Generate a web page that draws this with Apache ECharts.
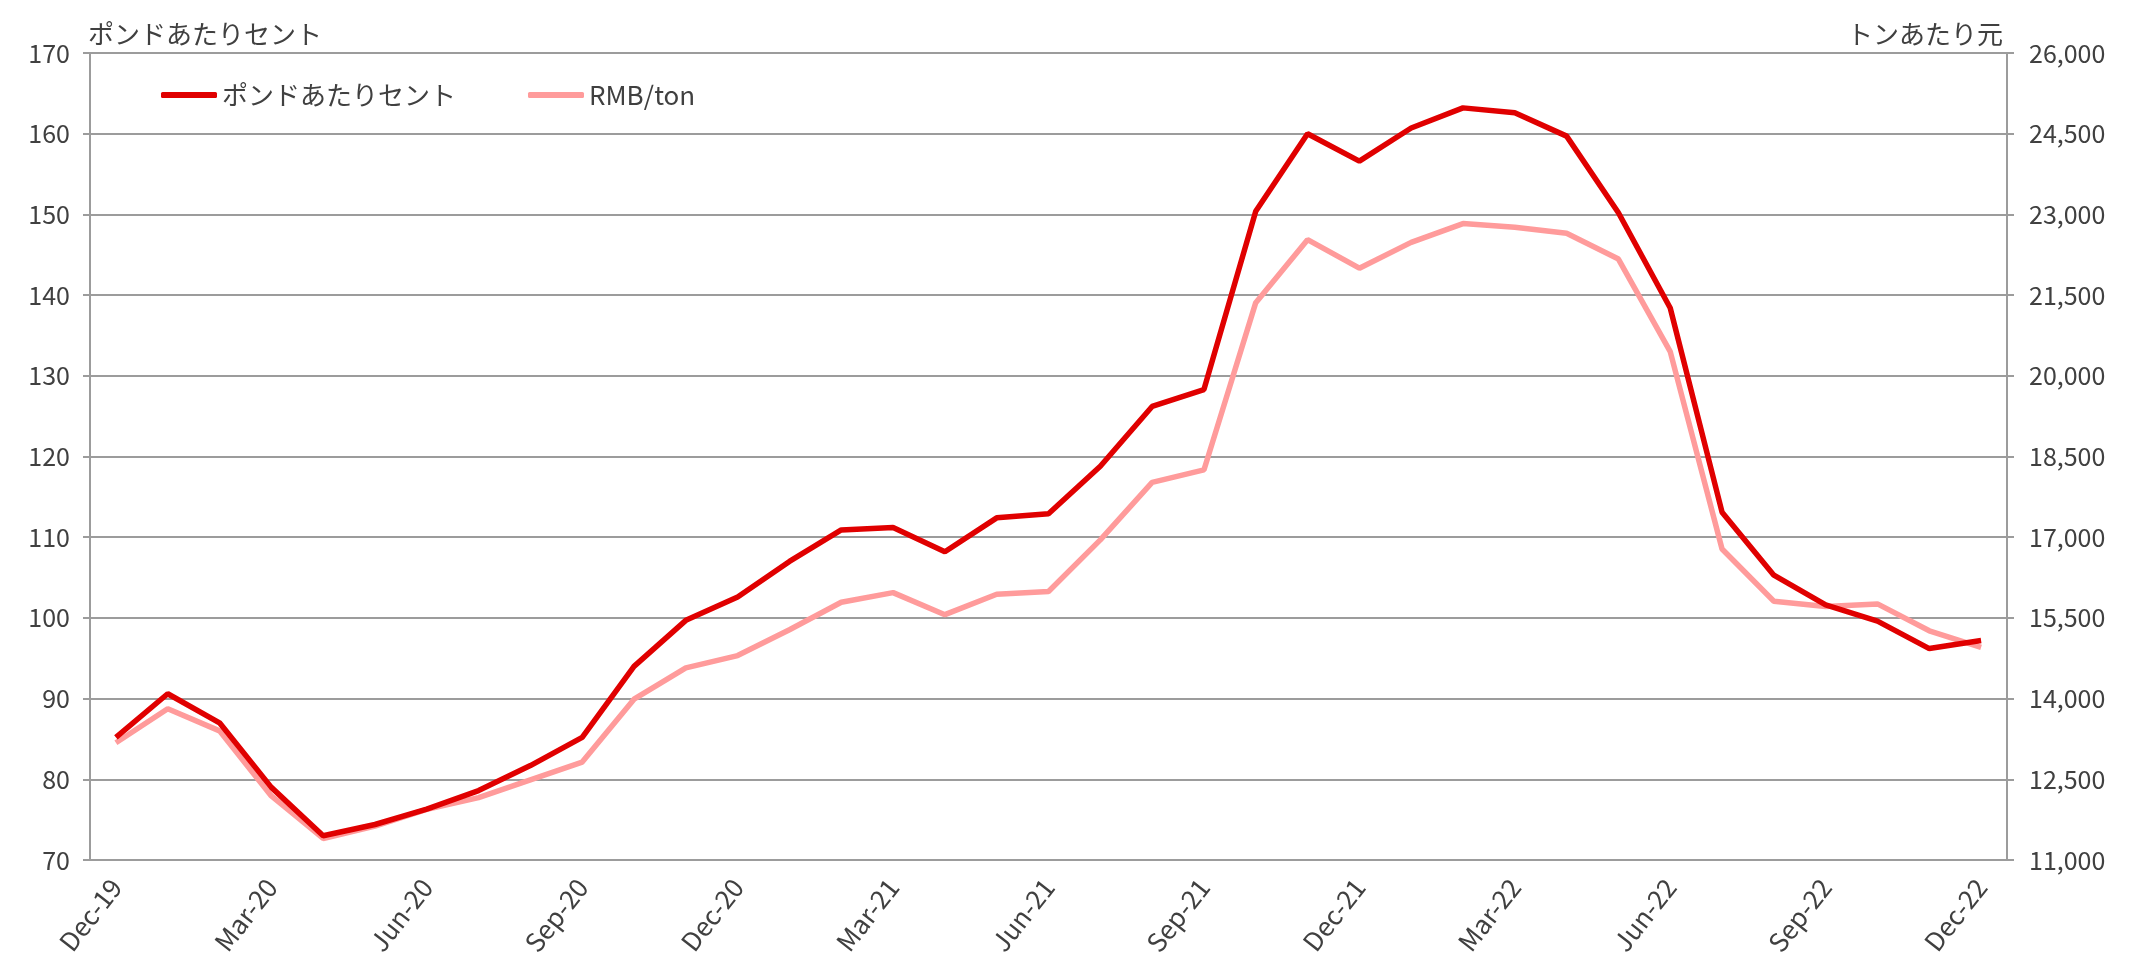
<!DOCTYPE html>
<html>
<head>
<meta charset="utf-8">
<script src="https://cdn.jsdelivr.net/npm/echarts@6/dist/echarts.min.js"></script>
<style>
  html, body { margin: 0; padding: 0; background: #fff; }
  #chart { width: 2137px; height: 978px; }
</style>
</head>
<body>
<div id="chart"></div>
<script>
const months = [
  'Dec-19', 'Jan-20', 'Feb-20', 'Mar-20', 'Apr-20', 'May-20', 'Jun-20', 'Jul-20', 'Aug-20', 'Sep-20', 'Oct-20', 'Nov-20',
  'Dec-20', 'Jan-21', 'Feb-21', 'Mar-21', 'Apr-21', 'May-21', 'Jun-21', 'Jul-21', 'Aug-21', 'Sep-21', 'Oct-21', 'Nov-21',
  'Dec-21', 'Jan-22', 'Feb-22', 'Mar-22', 'Apr-22', 'May-22', 'Jun-22', 'Jul-22', 'Aug-22', 'Sep-22', 'Oct-22', 'Nov-22',
  'Dec-22'
]

// cents per pound (left axis)
const centsPerLb = [
  85.2, 90.6, 87.0, 79.0, 73.0, 74.4, 76.3, 78.6, 81.7, 85.2, 94.0, 99.7,
  102.6, 107.0, 110.9, 111.2, 108.2, 112.4, 112.9, 118.8, 126.2, 128.3, 150.4, 160.0,
  156.6, 160.7, 163.2, 162.6, 159.7, 150.2, 138.4, 113.1, 105.3, 101.6, 99.6, 96.2,
  97.2
]

// RMB per ton (right axis)
const rmbPerTon = [
  13180, 13810, 13400, 12190, 11400, 11630, 11940, 12160, 12490, 12820, 13990, 14570,
  14800, 15280, 15790, 15970, 15560, 15940, 15990, 16950, 18020, 18250, 21360, 22530,
  22000, 22480, 22830, 22760, 22650, 22170, 20450, 16780, 15810, 15710, 15760, 15260,
  14950
]

const leftName  = 'ポンドあたりセント'
const rightName = 'トンあたり元'

const FONT = '"Noto Sans CJK JP", "Noto Sans", sans-serif'
const TEXT = '#404040'
const GRID = '#9c9c9c'
const RED  = '#e00000'
const PINK = '#ff9b9b'

const chart = echarts.init(document.getElementById('chart'))

chart.setOption({
  animation: false,
  textStyle: { fontFamily: FONT, color: TEXT },
  grid: { left: 90, right: 130, top: 53, bottom: 118 },
  legend: {
    left: 156, top: 77,
    icon: 'roundRect',
    itemWidth: 56, itemHeight: 6, itemGap: 72,
    textStyle: { fontSize: 26, color: TEXT, fontFamily: FONT },
    data: [leftName, 'RMB/ton'],
  },
  xAxis: {
    type: 'category',
    data: months,
    boundaryGap: true,
    axisLine: { lineStyle: { color: GRID, width: 2 } },
    axisTick: { interval: 2, length: 9, lineStyle: { color: GRID, width: 2 } },
    axisLabel: {
      interval: 2, rotate: 52, margin: 22,
      fontSize: 26, color: TEXT, fontFamily: FONT,
    },
  },
  yAxis: [
    {
      type: 'value',
      min: 70, max: 170, interval: 10,
      name: leftName,
      nameLocation: 'end',
      nameGap: 6,
      nameTextStyle: { align: 'left', fontSize: 26, color: TEXT, padding: [0, 0, 0, -2] },
      axisLine: { show: true, lineStyle: { color: GRID, width: 2 } },
      axisTick: { show: true, length: 7, lineStyle: { color: GRID, width: 2 } },
      axisLabel: { fontSize: 25, color: TEXT, margin: 20 },
      splitLine: { lineStyle: { color: GRID, width: 2 } },
    },
    {
      type: 'value',
      min: 11000, max: 26000,
      alignTicks: true,
      name: rightName,
      nameLocation: 'end',
      nameGap: 6,
      nameTextStyle: { align: 'right', fontSize: 26, color: TEXT, padding: [0, 4, 0, 0] },
      axisLine: { show: true, lineStyle: { color: GRID, width: 2 } },
      axisTick: { show: true, length: 7, lineStyle: { color: GRID, width: 2 } },
      axisLabel: {
        fontSize: 25, color: TEXT, margin: 22,
        formatter: v => v.toLocaleString('en-US'),
      },
      splitLine: { show: false },
    },
  ],
  series: [
    {
      name: leftName,
      type: 'line',
      yAxisIndex: 0,
      data: centsPerLb,
      symbol: 'none',
      lineStyle: { color: RED, width: 5.5 },
      itemStyle: { color: RED },
      z: 3,
    },
    {
      name: 'RMB/ton',
      type: 'line',
      yAxisIndex: 1,
      data: rmbPerTon,
      symbol: 'none',
      lineStyle: { color: PINK, width: 5.5 },
      itemStyle: { color: PINK },
      z: 2,
    },
  ],
})
</script>
</body>
</html>
